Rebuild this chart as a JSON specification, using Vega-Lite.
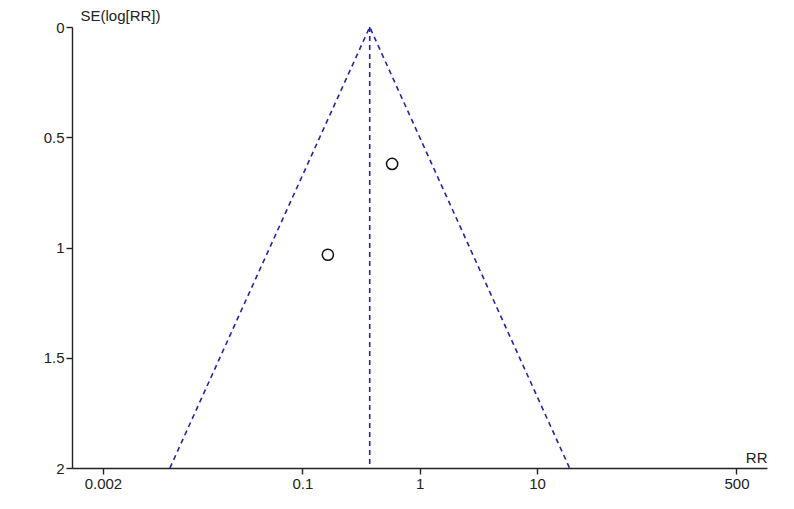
{
  "$schema": "https://vega.github.io/schema/vega-lite/v6.json",
  "autosize": {"type": "none"},
  "padding": {"left": 72, "top": 27, "right": 27, "bottom": 41},
  "width": 695,
  "height": 441,
  "background": "white",
  "config": {
    "view": {"stroke": null},
    "font": "Liberation Sans",
    "axis": {
      "grid": false,
      "domainColor": "#222",
      "tickColor": "#222",
      "labelColor": "#222",
      "titleColor": "#222",
      "labelFont": "Liberation Sans",
      "titleFont": "Liberation Sans",
      "labelFontSize": 15,
      "titleFontSize": 15,
      "titleFontWeight": "normal",
      "tickSize": 6,
      "domainWidth": 1.4,
      "tickWidth": 1.4
    }
  },
  "datasets": {
    "studies": [
      {"rr": 0.582, "se": 0.621},
      {"rr": 0.165, "se": 1.033}
    ],
    "funnel": [
      {"rr": 0.00744, "se": 2, "o": 1},
      {"rr": 0.375, "se": 0, "o": 2},
      {"rr": 18.9, "se": 2, "o": 3}
    ],
    "pooled": [
      {"rr": 0.375, "se0": 0, "se1": 2}
    ]
  },
  "layer": [
    {
      "data": {"name": "funnel"},
      "mark": {"type": "line", "color": "#2424a8", "strokeWidth": 1.6, "strokeDash": [5, 4], "clip": true},
      "encoding": {
        "x": {
          "field": "rr", "type": "quantitative",
          "scale": {"type": "log", "domain": [0.00109, 910], "nice": false},
          "axis": {
            "values": [0.002, 0.1, 1, 10, 500],
            "format": "~g",
            "title": "RR",
            "titleAnchor": "end",
            "titleAlign": "right",
            "titleBaseline": "bottom",
            "titleX": 695,
            "titleY": -3,
            "labelPadding": 2
          }
        },
        "y": {
          "field": "se", "type": "quantitative",
          "scale": {"domain": [0, 2], "reverse": true, "nice": false},
          "axis": {
            "values": [0, 0.5, 1, 1.5, 2],
            "format": "~g",
            "title": "SE(log[RR])",
            "titleAngle": 0,
            "titleAlign": "left",
            "titleBaseline": "bottom",
            "titleX": 8,
            "titleY": -4,
            "labelPadding": 2
          }
        },
        "order": {"field": "o", "type": "quantitative"}
      }
    },
    {
      "data": {"name": "pooled"},
      "mark": {"type": "rule", "color": "#2424a8", "strokeWidth": 1.6, "strokeDash": [5, 4]},
      "encoding": {
        "x": {"field": "rr", "type": "quantitative"},
        "y": {"field": "se0", "type": "quantitative"},
        "y2": {"field": "se1"}
      }
    },
    {
      "data": {"name": "studies"},
      "mark": {"type": "point", "shape": "circle", "filled": false, "color": "#111", "strokeWidth": 1.5, "size": 125, "opacity": 1},
      "encoding": {
        "x": {"field": "rr", "type": "quantitative"},
        "y": {"field": "se", "type": "quantitative"}
      }
    }
  ]
}
